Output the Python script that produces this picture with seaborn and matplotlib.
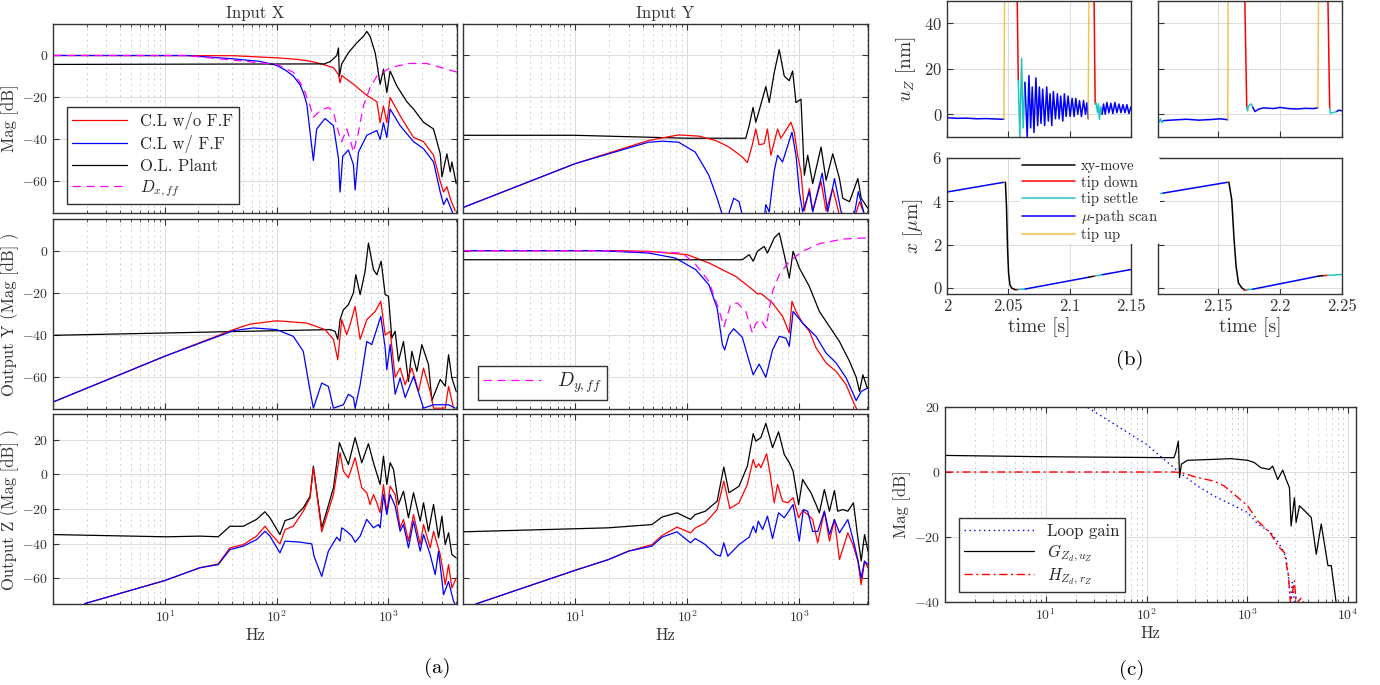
import pandas as pd
import matplotlib
matplotlib.use('Agg')
import matplotlib.pyplot as plt
from matplotlib.lines import Line2D
import seaborn as sns

sns.set_theme(style='white')
plt.rcParams['font.family'] = ['cmr10', 'DejaVu Serif']
plt.rcParams['mathtext.fontset'] = 'cm'
plt.rcParams['axes.unicode_minus'] = False
plt.rcParams['axes.formatter.use_mathtext'] = True
plt.rcParams['lines.scale_dashes'] = False

INK = '#333333'
RED, BLUE, BLACK, MAG = '#ff0000', '#0000ff', '#000000', '#ff00ff'
CYAN, ORANGE = '#22c4c4', '#edb120'

# ---------------- (a) frequency responses, (Hz, dB) ----------------
# input X -> output X
cl_xx = [(1, 0), (41, -0.1), (100, -1.1), (150, -1.8), (199, -2.7), (250, -4), (322, -5.8),
         (357, -9), (369, -13), (382, -9.5), (486, -13.7), (640, -19), (787, -22), (842, -32),
         (902, -24), (966, -32), (1035, -20), (1271, -28.7), (1674, -39), (2058, -41),
         (2529, -47.5), (2903, -60), (3110, -65), (3329, -62.5), (3566, -68), (3953, -74)]
ff_xx = [(1, 0), (15.6, 0), (41, -1.6), (71, -2.8), (100, -4.7), (120, -7), (141, -9.8),
         (162, -14), (173, -17.6), (186, -23), (199, -36.5), (213, -50), (228, -35), (271, -30),
         (322, -33.4), (357, -49), (369, -65), (390, -48), (438, -45), (486, -52), (503, -64),
         (539, -46), (640, -38), (787, -35.7), (842, -40), (902, -32), (966, -39), (1035, -25.5),
         (1271, -33.4), (1674, -41), (2058, -44.4), (2529, -50.7), (2903, -65), (3110, -71),
         (3329, -68), (3690, -74), (4093, -80)]
ol_xx = [(1, -4.25), (271, -4.0), (280, -3.5), (300, -3), (345, 0), (357, 3.6), (364, -9.8),
         (382, -4), (438, 1.3), (520, 6), (597, 9.1), (640, 11.5), (685, 9.1), (760, 1.3),
         (787, -3.5), (842, -13.7), (902, -6.6), (966, -17.6), (1035, -7.4), (1188, -14.5),
         (1459, -22), (1674, -25.5), (2058, -31.8), (2529, -35), (2903, -46.8), (3005, -57.8),
         (3329, -46.8), (3566, -55.4), (3690, -50.7), (4034, -61)]
d_xff = [(1, 0), (15.6, 0), (100, -4.25), (141, -8), (173, -15.3), (199, -24), (213, -29.4),
         (244, -26.3), (290, -24.7), (322, -27), (357, -36.5), (382, -41), (423, -35), (454, -40),
         (486, -46), (539, -36.5), (597, -24), (685, -15.3), (787, -9.8), (1035, -5.8),
         (1510, -3.8), (2200, -3.8), (4093, -7.9)]

# input Y -> output X
cl_yx = [(1, -72.4), (10, -51.5), (45, -40.5), (84, -37.8), (127, -38.4), (180, -40.5),
         (236, -43.6), (310, -48.3), (344, -51), (380, -42.8), (409, -35), (438, -42.5),
         (486, -42), (520, -35), (558, -47.5), (640, -35), (685, -39.4), (842, -31.8),
         (902, -36.5), (966, -47.5), (1035, -55.4), (1109, -74), (1230, -63.3), (1316, -74),
         (1563, -60), (1733, -74), (1989, -63.3), (2280, -76), (3000, -80), (3446, -69.6),
         (3820, -76)]
ff_yx = [(1, -72.4), (10, -51.5), (45, -41.3), (60, -40.8), (84, -41.3), (118, -46), (156, -57),
         (185, -68), (206, -76), (220, -80), (236, -75), (260, -68), (290, -69.6), (310, -76),
         (330, -80), (480, -80), (503, -71), (539, -74.5), (597, -55), (640, -47.5), (709, -50.7),
         (860, -36.5), (934, -47.5), (1000, -64.8), (1071, -74.5), (1230, -64.8), (1316, -74.5),
         (1600, -56), (1794, -74.5), (2060, -58.6), (2360, -74.5), (3000, -80), (3360, -64.8),
         (3820, -76)]
ol_yx = [(1, -38), (10, -38), (100, -39.4), (333, -39.4), (357, -33.4), (387, -24.7),
         (409, -31.8), (438, -26.3), (503, -14.8), (539, -22.4), (597, -8.2), (662, 2.8),
         (734, -9.8), (813, -12), (872, -7.4), (934, -22.4), (1035, -20.8), (1109, -57),
         (1188, -47.5), (1316, -61), (1563, -43.6), (1733, -59.4), (1989, -46.8), (2280, -58.6),
         (2444, -68), (2805, -69.6), (3329, -58.6), (3566, -68), (4093, -72.8)]

# input X -> output Y
cl_xy = [(1, -71.7), (10, -50), (41, -37.4), (57.7, -34.8), (100, -33.2), (186, -34.3),
         (271, -37.4), (322, -42), (352, -51.7), (382, -32.7), (423, -39.8), (454, -35),
         (503, -26.4), (558, -42), (640, -32.7), (760, -28.8), (854, -24), (934, -40),
         (1035, -38.2), (1148, -60), (1271, -55.6), (1410, -63.5), (1618, -55.6), (1857, -66.7),
         (2058, -55.6), (2360, -66.7), (2529, -74.6), (3219, -74.6), (3446, -64.3), (3820, -74.6)]
ff_xy = [(1, -71.7), (10, -50), (41, -37.9), (62, -36.6), (100, -37.4), (141, -40.6),
         (173, -47.7), (199, -66.4), (213, -74.6), (253, -62.7), (290, -64.3), (322, -74.6),
         (395, -73), (438, -68), (486, -69.6), (503, -74.6), (558, -63.5), (640, -43),
         (709, -44.5), (854, -31.1), (934, -46), (966, -56.4), (1035, -44.5), (1148, -68),
         (1271, -60.3), (1410, -69.6), (1674, -59.6), (2058, -74.6), (2529, -73), (3446, -73),
         (3953, -74.6)]
ol_xy = [(1, -40.1), (100, -37.9), (300, -37.4), (333, -38.2), (352, -42), (369, -32.7),
         (395, -28), (438, -25.6), (486, -20), (510, -11.4), (558, -20.8), (618, -9.8),
         (662, 3.6), (734, -9), (787, -11.4), (860, -5), (934, -20.8), (1000, -21.6),
         (1071, -41.4), (1148, -38.2), (1230, -52.4), (1362, -43), (1510, -62), (1618, -47.7),
         (1794, -57.2), (1989, -44.5), (2280, -54), (2444, -71), (2903, -61), (3219, -64.2),
         (3446, -49.3), (3690, -60.3), (4034, -66.7)]

# input Y -> output Y
cl_yy = [(1, 0), (22.8, 0), (45, -0.3), (100, -1.9), (156, -5.8), (271, -12.2), (395, -19),
         (423, -20.5), (454, -20.2), (577, -24.8), (709, -31.1), (814, -39), (860, -24),
         (934, -28.8), (1071, -34.3), (1230, -38.2), (1410, -46), (1733, -53.2), (2132, -57.2),
         (2618, -63.5), (3110, -73), (3329, -76)]
ff_yy = [(1, 0), (16.2, 0), (45, -1.1), (78.6, -3.5), (119, -9), (156, -16.1), (185, -27.2),
         (206, -44.5), (216, -47), (236, -39.8), (260, -37), (310, -41), (357, -52.4),
         (388, -58.8), (438, -53.7), (503, -60), (577, -47), (662, -40.6), (760, -41.4),
         (814, -45.3), (880, -28.8), (1071, -34.3), (1410, -40.6), (1733, -48.5), (2132, -53.2),
         (2618, -60.3), (3219, -71), (3566, -66.7), (4093, -65)]
ol_yy = [(1, -4.3), (206, -4.3), (310, -4.3), (357, -1.9), (388, -5), (423, -0.3), (486, 2),
         (520, -1.1), (597, 6), (662, 8.4), (734, -1.9), (814, -13), (880, -0.3), (1000, -8.2),
         (1230, -17), (1510, -28.8), (1857, -35.9), (2280, -43), (2805, -52.4), (3219, -60),
         (3446, -66.7), (3690, -58.8), (4034, -65)]
d_yff = [(1, 0), (18, 0), (90, -1.1), (118, -6.3), (156, -14.5), (185, -25.6), (213, -35.9),
         (244, -25.6), (280, -24.8), (333, -28.8), (382, -39), (410, -34.3), (454, -32.7),
         (503, -36.6), (577, -19.3), (662, -11.4), (814, -5), (1071, -0.3), (1510, 3.3),
         (2444, 5.5), (4093, 6.1)]

# input X -> output Z
cl_xz = [(1.92, -74.8), (10, -61.4), (20.6, -54), (30, -51.8), (38.2, -42.5), (50.3, -40.6),
         (66.2, -35.7), (78.6, -30), (87.1, -33.8), (107, -40.2), (119, -31.9), (141, -30),
         (173, -21.3), (199, -13.5), (213, 3.9), (228, -10.6), (253, -33.2), (280, -24.2),
         (322, -11.6), (369, 12.6), (395, 1.9), (438, -1.9), (503, 9.7), (577, -7.7),
         (640, -10.6), (685, -17.4), (734, -11.6), (787, -16.4), (842, -22.2), (902, -5.8),
         (966, -22.2), (1035, -6.8), (1148, -11.6), (1271, -31), (1362, -26.1), (1510, -38.6),
         (1674, -23.2), (1922, -40.6), (2058, -29), (2360, -42.5), (2529, -32.9), (2903, -46.4),
         (3219, -63.8), (3446, -52.2), (3690, -65.7), (4034, -60)]
ff_xz = [(1.92, -74.8), (10, -61.4), (20.6, -54), (30, -52.2), (38.2, -43.5), (50.3, -41.5),
         (66.2, -37.7), (78.6, -32.9), (87.1, -35.7), (107, -45.4), (119, -38.6), (162, -39.2),
         (206, -40.2), (216, -47.3), (253, -59), (290, -44.4), (345, -36.3), (369, -38.6),
         (382, -30.9), (423, -32.9), (470, -35.7), (503, -39.2), (558, -35.7), (640, -26),
         (734, -30.9), (814, -29), (842, -30.9), (902, -11.6), (966, -23.2), (1035, -11.6),
         (1148, -18.4), (1271, -32.9), (1362, -29), (1510, -42.5), (1674, -27), (1922, -44.4),
         (2058, -34.8), (2360, -46.4), (2618, -58), (2805, -44.4), (3110, -69.6), (3446, -62),
         (3820, -73.4), (4093, -77)]
ol_xz = [(1, -34.8), (10.35, -36.1), (20.6, -35.7), (30, -36.1), (38.2, -30), (50.3, -30),
         (66.2, -26), (78.6, -21.6), (87.1, -25.1), (107, -34.8), (119, -26.7), (141, -25.1),
         (173, -19.3), (199, -12.6), (213, 4.8), (228, -9.7), (253, -30.9), (280, -21.3),
         (322, -7.7), (364, 18.4), (395, 12.6), (438, 5.8), (503, 21.3), (577, 6.8), (662, 17.8),
         (734, 6.8), (842, -5.8), (902, 10.6), (966, -5.8), (1035, 6.8), (1109, 2.9),
         (1230, -17.4), (1362, -9.7), (1510, -25.1), (1674, -10.6), (1922, -27), (2058, -16.4),
         (2280, -32.9), (2529, -17.4), (2805, -36.7), (3005, -24.2), (3219, -40.6), (3446, -33.8),
         (3690, -46.4), (4034, -48.3)]

# input Y -> output Z
cl_yz = [(1.3, -75), (10, -55.5), (19.8, -49.3), (30, -44.4), (48.5, -40.6), (59.5, -35.4),
         (81, -30.5), (107, -33.8), (118, -31), (145, -28), (185, -20.3), (212, -3.9),
         (240, -19.7), (290, -16.4), (344, -5.8), (388, 8.7), (410, 3.9), (435, 6.2), (454, 3.9),
         (511, 12), (550, 0), (597, -16.4), (640, -5.8), (709, -15.5), (787, -16.4), (880, -13.5),
         (986, -25.1), (1071, -20.9), (1188, -23.2), (1316, -26.1), (1459, -39.6), (1674, -21.3),
         (1857, -38.6), (2058, -26.1), (2280, -49.3), (2710, -33.8), (3005, -40.6), (3329, -50.2),
         (3566, -63.8), (3820, -50.2), (4093, -54.1)]
ff_yz = [(1.3, -75), (10, -55.5), (19.8, -49.3), (30, -44.4), (48.5, -41.5), (59.5, -36.3),
         (81, -33.2), (107, -39.6), (118, -37.1), (145, -40.6), (180, -46.4), (198, -47.3),
         (212, -39.6), (230, -47.3), (290, -40.6), (357, -36.3), (388, -30), (410, -33.8),
         (430, -27), (470, -31.9), (520, -24.2), (577, -37.1), (653, -22.2), (734, -25.1),
         (787, -22.2), (880, -17.4), (1000, -38.6), (1085, -20.3), (1188, -21.3), (1316, -33),
         (1459, -33), (1674, -21.3), (1857, -34.8), (2058, -26.1), (2280, -33.8), (2710, -26.1),
         (3040, -38.6), (3329, -49.3), (3566, -60), (3820, -50.2), (4093, -52.2)]
ol_yz = [(1, -33.2), (19.8, -30.9), (48.5, -29), (59.5, -24.7), (81, -22.2), (107, -26),
         (118, -23.2), (145, -21.3), (185, -15.5), (212, 4.3), (236, -10.6), (290, -6.8),
         (344, 4.8), (388, 23.6), (409, 19.3), (454, 21.3), (503, 29.6), (577, 15.5), (653, 24.7),
         (734, 11.6), (814, 6.8), (880, 1.9), (986, -17.4), (1071, -2.9), (1188, -7.7),
         (1271, -10.6), (1410, -17.4), (1510, -22.2), (1674, -8.7), (1857, -21.3), (2058, -9.3),
         (2200, -21.3), (2444, -20.3), (2710, -21.3), (3040, -16.4), (3329, -36.7), (3566, -50),
         (3820, -34.8), (4093, -44.4)]

# ---------------- (b) time series (s, value) ----------------
uz1_scan_a = [(2.0, -1.5), (2.008, -1.8), (2.016, -1.7), (2.024, -2.0), (2.032, -1.9),
              (2.040, -2.1), (2.0464, -2.2)]
uz1_up_a = [(2.0464, -2.2), (2.0470, 60)]
uz1_down_a = [(2.0570, 60), (2.0581, 15)]
uz1_settle_a = [(2.0581, 15), (2.0594, -10.4), (2.0608, 24.6), (2.0621, -6), (2.0635, 14)]
uz1_scan_b = [(2.0635, 14), (2.0654, -10), (2.0668, 17), (2.0682, -6), (2.0695, 12),
              (2.0709, -8), (2.0725, 16), (2.0739, -5), (2.0753, 12), (2.0766, -4), (2.0780, 11),
              (2.0796, -5), (2.0813, 12), (2.0826, -3), (2.0840, 9), (2.0854, -5), (2.0867, 10),
              (2.0884, -2), (2.0900, 9), (2.0914, -2), (2.0927, 8), (2.0944, -3), (2.0957, 9),
              (2.0971, -1), (2.0987, 8), (2.1004, -1), (2.1020, 7), (2.1036, -1), (2.1050, 7),
              (2.1066, 0), (2.1080, 6), (2.1096, -1), (2.1113, 6), (2.1129, 0), (2.1140, 5),
              (2.1151, -2)]
uz1_up_b = [(2.1151, -2), (2.1158, 60)]
uz1_down_b = [(2.1197, 60), (2.1208, 4.5)]
uz1_settle_b = [(2.1208, 4.5), (2.1216, 5), (2.1227, 0.7), (2.1235, 4.5), (2.1243, -2.2),
                (2.1254, 3.3), (2.1265, 0)]
uz1_scan_c = [(2.1265, 0), (2.1276, 4.5), (2.1290, 0), (2.1303, 5.2), (2.1320, 0.7),
              (2.1336, 4.8), (2.1352, 0.3), (2.1369, 5.2), (2.1385, 0.7), (2.1402, 4.5),
              (2.1418, 0.7), (2.1434, 4.2), (2.1451, 0.7), (2.1467, 4.2), (2.1483, 0.3),
              (2.1500, 3.3)]

uz2_settle_a = [(2.1021, -2.5), (2.1030, -3.5), (2.1040, -2.0), (2.1050, -3.7), (2.1062, -2.8)]
uz2_scan_a = [(2.1062, -2.8), (2.115, -2.5), (2.125, -2.2), (2.135, -2.6), (2.145, -2.3),
              (2.152, -2.0), (2.1581, -2.4)]
uz2_up_a = [(2.1581, -2.4), (2.1585, 60)]
uz2_down_a = [(2.1715, 60), (2.1734, 3)]
uz2_settle_b = [(2.1734, 3), (2.1740, 1.5), (2.1747, 3.5), (2.1760, 4.2), (2.1772, 4.5),
                (2.1782, 3)]
uz2_scan_b = [(2.1782, 3), (2.1801, 1.2), (2.1828, 2.2), (2.1868, 2.8), (2.195, 2.5),
              (2.2003, 3.0), (2.207, 2.5), (2.2137, 2.3), (2.220, 2.6), (2.2272, 2.5),
              (2.2306, 2.8)]
uz2_up_b = [(2.2306, 2.8), (2.2312, 60)]
uz2_down_b = [(2.2384, 60), (2.2401, 2.5)]
uz2_settle_c = [(2.2401, 2.5), (2.2406, 0.5), (2.2433, 0.8), (2.2460, 1.2)]
uz2_scan_c = [(2.2460, 1.2), (2.2473, 1.8), (2.2500, 1.5)]

x1_scan_a = [(2.0, 4.43), (2.0464, 4.88)]
x1_up_a = [(2.0464, 4.88), (2.0476, 4.88)]
x1_move = [(2.0476, 4.88), (2.0485, 3.77), (2.0494, 1.77), (2.0502, 0.69), (2.0513, 0.15),
           (2.0526, 0.0), (2.0554, -0.08), (2.0568, -0.08)]
x1_down_a = [(2.0568, -0.08), (2.0581, -0.07)]
x1_settle_a = [(2.0581, -0.07), (2.0638, -0.05)]
x1_scan_b = [(2.0638, -0.05), (2.1151, 0.49)]
x1_move_b = [(2.1151, 0.49), (2.1197, 0.54)]
x1_down_b = [(2.1197, 0.54), (2.1208, 0.55)]
x1_settle_b = [(2.1208, 0.55), (2.1265, 0.61)]
x1_scan_c = [(2.1265, 0.61), (2.15, 0.85)]

x2_settle_a = [(2.1021, 4.34), (2.1062, 4.38)]
x2_scan_a = [(2.1062, 4.38), (2.1581, 4.88)]
x2_up_a = [(2.1581, 4.88), (2.1590, 4.88)]
x2_move = [(2.1590, 4.88), (2.1613, 4.08), (2.1632, 2.23), (2.1648, 1.0), (2.1667, 0.23),
           (2.1694, 0.0), (2.1715, -0.08)]
x2_down_a = [(2.1715, -0.08), (2.1734, -0.08)]
x2_settle_b = [(2.1734, -0.08), (2.1782, -0.06)]
x2_scan_b = [(2.1782, -0.06), (2.2306, 0.54)]
x2_move_b = [(2.2306, 0.54), (2.2352, 0.57)]
x2_down_b = [(2.2352, 0.57), (2.2384, 0.58)]
x2_settle_c = [(2.2384, 0.58), (2.25, 0.62)]

# ---------------- (c) loop shaping, (Hz, dB) ----------------
loop_gain = [(20, 22.5), (25.6, 20), (100, 8.5), (210, 0), (320, -4.3), (469, -7.4),
             (687, -9.9), (1008, -12.5), (1268, -16), (1720, -18.6), (2166, -23), (2429, -26.3),
             (2562, -32), (2684, -40), (2800, -34), (2940, -40), (3054, -38.5), (3426, -40.5)]
g_zd = [(1, 5.1), (10, 4.7), (187, 4.4), (195, 6), (207, 9.5), (213, -1.7), (222, 2.4),
        (254, 3.6), (469, 3.9), (687, 4.1), (1008, 3.6), (1175, 2.9), (1368, 1.3), (1656, 0.8),
        (1787, 1.8), (2005, -2.3), (2250, 0.6), (2429, -2.3), (2622, -4.8), (2724, -16.6),
        (2940, -7.9), (3054, -15.5), (3298, -10.4), (3700, -11.9), (4312, -14), (4837, -25.3),
        (5424, -16), (6318, -28.8), (6817, -28.8), (7650, -40.5)]
h_zd = [(1, 0), (187, 0), (222, -0.2), (320, -1.7), (469, -2.8), (590, -4.3), (742, -6.9),
        (1008, -10.4), (1268, -15), (1720, -19.1), (2005, -22.7), (2338, -24.8), (2562, -32),
        (2684, -40.5), (2940, -33.5), (3054, -40.5), (3426, -38.8), (3700, -40.5)]

W, H = 1380, 685


def rect(x0, x1, y0, y1):
    return [x0 / W, 1 - y1 / H, (x1 - x0) / W, (y1 - y0) / H]


def draw(ax, pts, color, ls='-', lw=0.9, alpha=1.0):
    df = pd.DataFrame(pts, columns=['x', 'y'])
    sns.lineplot(data=df, x='x', y='y', ax=ax, color=color, linestyle=ls, linewidth=lw,
                 alpha=alpha, estimator=None, sort=False, legend=False)


def style(ax, logx=True, minor_grid=True):
    if logx:
        ax.set_xscale('log')
    ax.grid(True, which='major', color='#dcdcdc', lw=0.7, ls='-')
    if minor_grid:
        ax.grid(True, which='minor', axis='x', color='#b8b8b8', lw=0.6, ls=(0, (1, 3)))
    ax.set_axisbelow(True)
    ax.tick_params(which='both', direction='in', top=True, right=True, colors=INK,
                   labelsize=10, bottom=True, left=True)
    ax.tick_params(which='major', length=4, width=0.8)
    ax.tick_params(which='minor', length=2, width=0.6)
    for s in ax.spines.values():
        s.set_color(INK)
        s.set_linewidth(1.0)
    ax.set_xlabel('')
    ax.set_ylabel('')


fig = plt.figure(figsize=(13.8, 6.85), dpi=100)

# ---------------- panel (a) ----------------
cols = [(53, 457), (463, 868)]
rows = [(24, 213), (219, 409), (414, 604)]
grid_curves = [
    [[(cl_xx, RED, '-'), (ff_xx, BLUE, '-'), (ol_xx, BLACK, '-'), (d_xff, MAG, (0, (6, 4)))],
     [(ol_yx, BLACK, '-'), (cl_yx, RED, '-'), (ff_yx, BLUE, '-')]],
    [[(ol_xy, BLACK, '-'), (cl_xy, RED, '-'), (ff_xy, BLUE, '-')],
     [(cl_yy, RED, '-'), (ff_yy, BLUE, '-'), (ol_yy, BLACK, '-'), (d_yff, MAG, (0, (6, 4)))]],
    [[(ol_xz, BLACK, '-'), (cl_xz, RED, '-'), (ff_xz, BLUE, '-')],
     [(ol_yz, BLACK, '-'), (cl_yz, RED, '-'), (ff_yz, BLUE, '-')]],
]
ylabels = ['Mag [dB]', 'Output Y (Mag [dB] )', 'Output Z (Mag [dB] )']
axes_a = {}
for r, (y0, y1) in enumerate(rows):
    for c, (x0, x1) in enumerate(cols):
        ax = fig.add_axes(rect(x0, x1, y0, y1))
        for pts, col, ls in grid_curves[r][c]:
            draw(ax, pts, col, ls)
        style(ax)
        ax.set_xlim(1, 4100)
        if r < 2:
            ax.set_ylim(-75, 15)
            ax.set_yticks([-60, -40, -20, 0])
        else:
            ax.set_ylim(-75, 35)
            ax.set_yticks([-60, -40, -20, 0, 20])
        ax.set_xticks([10, 100, 1000])
        if r < 2:
            ax.tick_params(labelbottom=False)
        else:
            ax.set_xlabel('Hz', fontsize=12, color=INK, labelpad=2)
        if c == 1:
            ax.tick_params(labelleft=False)
        else:
            ax.set_ylabel(ylabels[r], fontsize=12, color=INK)
            ax.yaxis.set_label_coords(-0.085, 0.5)
        axes_a[(r, c)] = ax

axes_a[(0, 0)].set_title('Input X', fontsize=12, color=INK, pad=4)
axes_a[(0, 1)].set_title('Input Y', fontsize=12, color=INK, pad=4)

leg_a = [Line2D([], [], color=RED, lw=0.9), Line2D([], [], color=BLUE, lw=0.9),
         Line2D([], [], color=BLACK, lw=0.9), Line2D([], [], color=MAG, lw=0.9, ls=(0, (6, 4)))]
axes_a[(0, 0)].legend(leg_a, ['C.L w/o F.F', 'C.L w/ F.F', 'O.L. Plant', r'$D_{x,ff}$'],
                      loc='lower left', bbox_to_anchor=(0.035, 0.048), borderaxespad=0,
                      fancybox=False, edgecolor=INK, framealpha=1, fontsize=12,
                      handlelength=3.3, labelspacing=0.3, borderpad=0.3)
axes_a[(1, 1)].legend([Line2D([], [], color=MAG, lw=0.9, ls=(0, (6, 4)))], [r'$D_{y,ff}$'],
                      loc='lower left', bbox_to_anchor=(0.037, 0.047), borderaxespad=0,
                      fancybox=False, edgecolor=INK, framealpha=1, fontsize=14,
                      handlelength=3.0, borderpad=0.25)

fig.text(437 / W, 1 - 668 / H, '(a)', fontsize=15, ha='center', va='center', color='black')

# ---------------- panel (b) ----------------
b_cols = [(947, 1131), (1158, 1342)]
b_rows = [(0.5, 137), (158, 294)]
b_series = {
    (0, 0): [(uz1_scan_a, BLUE), (uz1_up_a, ORANGE), (uz1_down_a, RED), (uz1_settle_a, CYAN),
             (uz1_scan_b, BLUE), (uz1_up_b, ORANGE), (uz1_down_b, RED), (uz1_settle_b, CYAN),
             (uz1_scan_c, BLUE)],
    (0, 1): [(uz2_settle_a, CYAN), (uz2_scan_a, BLUE), (uz2_up_a, ORANGE), (uz2_down_a, RED),
             (uz2_settle_b, CYAN), (uz2_scan_b, BLUE), (uz2_up_b, ORANGE), (uz2_down_b, RED),
             (uz2_settle_c, CYAN), (uz2_scan_c, BLUE)],
    (1, 0): [(x1_scan_a, BLUE), (x1_up_a, ORANGE), (x1_move, BLACK), (x1_down_a, RED),
             (x1_settle_a, CYAN), (x1_scan_b, BLUE), (x1_move_b, BLACK), (x1_down_b, RED),
             (x1_settle_b, CYAN), (x1_scan_c, BLUE)],
    (1, 1): [(x2_settle_a, CYAN), (x2_scan_a, BLUE), (x2_up_a, ORANGE), (x2_move, BLACK),
             (x2_down_a, RED), (x2_settle_b, CYAN), (x2_scan_b, BLUE), (x2_move_b, BLACK),
             (x2_down_b, RED), (x2_settle_c, CYAN)],
}
for r, (y0, y1) in enumerate(b_rows):
    for c, (x0, x1) in enumerate(b_cols):
        ax = fig.add_axes(rect(x0, x1, y0, y1))
        for pts, col in b_series[(r, c)]:
            draw(ax, pts, col, lw=1.1, alpha=0.75 if col == ORANGE else 1.0)
        style(ax, logx=False, minor_grid=False)
        ax.tick_params(top=False, right=False, labelsize=12)
        ax.set_xlim((2.0, 2.15) if c == 0 else (2.102, 2.25))
        ax.set_xticks([2.0, 2.05, 2.1, 2.15] if c == 0 else [2.15, 2.2, 2.25])
        ax.set_xticklabels(['2', '2.05', '2.1', '2.15'] if c == 0 else ['2.15', '2.2', '2.25'])
        if r == 0:
            ax.set_ylim(-10, 50)
            ax.set_yticks([0, 20, 40])
            ax.tick_params(labelbottom=False)
        else:
            ax.set_ylim(-0.28, 6)
            ax.set_yticks([0, 2, 4, 6])
            ax.set_xlabel('time [s]', fontsize=14, color=INK, labelpad=2)
        if c == 1:
            ax.tick_params(labelleft=False)
        elif r == 0:
            ax.set_ylabel(r'$u_Z$ [nm]', fontsize=14, color=INK)
            ax.yaxis.set_label_coords(-0.16, 0.5)
        else:
            ax.set_ylabel(r'$x$ [$\mu$m]', fontsize=14, color=INK)
            ax.yaxis.set_label_coords(-0.12, 0.5)

leg_b = [Line2D([], [], color=BLACK, lw=1.1), Line2D([], [], color=RED, lw=1.1),
         Line2D([], [], color=CYAN, lw=1.1), Line2D([], [], color=BLUE, lw=1.1),
         Line2D([], [], color=ORANGE, lw=1.6, alpha=0.6)]
fig.legend(leg_b, ['xy-move', 'tip down', 'tip settle', r'$\mu$-path scan', 'tip up'],
           loc='upper left', bbox_to_anchor=(1013 / W, 1 - 150 / H), frameon=True,
           facecolor='white', edgecolor='none', framealpha=1, fontsize=10.5,
           handlelength=3.6, labelspacing=0.15, borderpad=0.15, handletextpad=0.4)

fig.text(1130 / W, 1 - 360 / H, '(b)', fontsize=15, ha='center', va='center', color='black')

# ---------------- panel (c) ----------------
axc = fig.add_axes(rect(945, 1356, 407, 602))
draw(axc, loop_gain, BLUE, ls=(0, (1, 2.5)), lw=1.0)
draw(axc, g_zd, BLACK, lw=0.9)
draw(axc, h_zd, RED, ls=(0, (6, 2.5, 1.5, 2.5)), lw=1.0)
style(axc)
axc.set_xlim(1, 12000)
axc.set_ylim(-40, 20)
axc.set_yticks([-40, -20, 0, 20])
axc.set_xticks([10, 100, 1000, 10000])
axc.set_xlabel('Hz', fontsize=12, color=INK, labelpad=2)
axc.set_ylabel('Mag [dB]', fontsize=12, color=INK)
axc.yaxis.set_label_coords(-0.083, 0.5)
leg_c = [Line2D([], [], color=BLUE, lw=1.0, ls=(0, (1, 2.5))), Line2D([], [], color=BLACK, lw=0.9),
         Line2D([], [], color=RED, lw=1.0, ls=(0, (6, 2.5, 1.5, 2.5)))]
axc.legend(leg_c, ['Loop gain', r'$G_{Z_d,u_Z}$', r'$H_{Z_d,r_Z}$'], loc='lower left',
           bbox_to_anchor=(0.034, 0.05), borderaxespad=0, fancybox=False, edgecolor=INK,
           framealpha=1, fontsize=12, handlelength=4.2, labelspacing=0.2, borderpad=0.3)

fig.text(1132 / W, 1 - 670 / H, '(c)', fontsize=15, ha='center', va='center', color='black')

fig.savefig('out.png', dpi=100)
